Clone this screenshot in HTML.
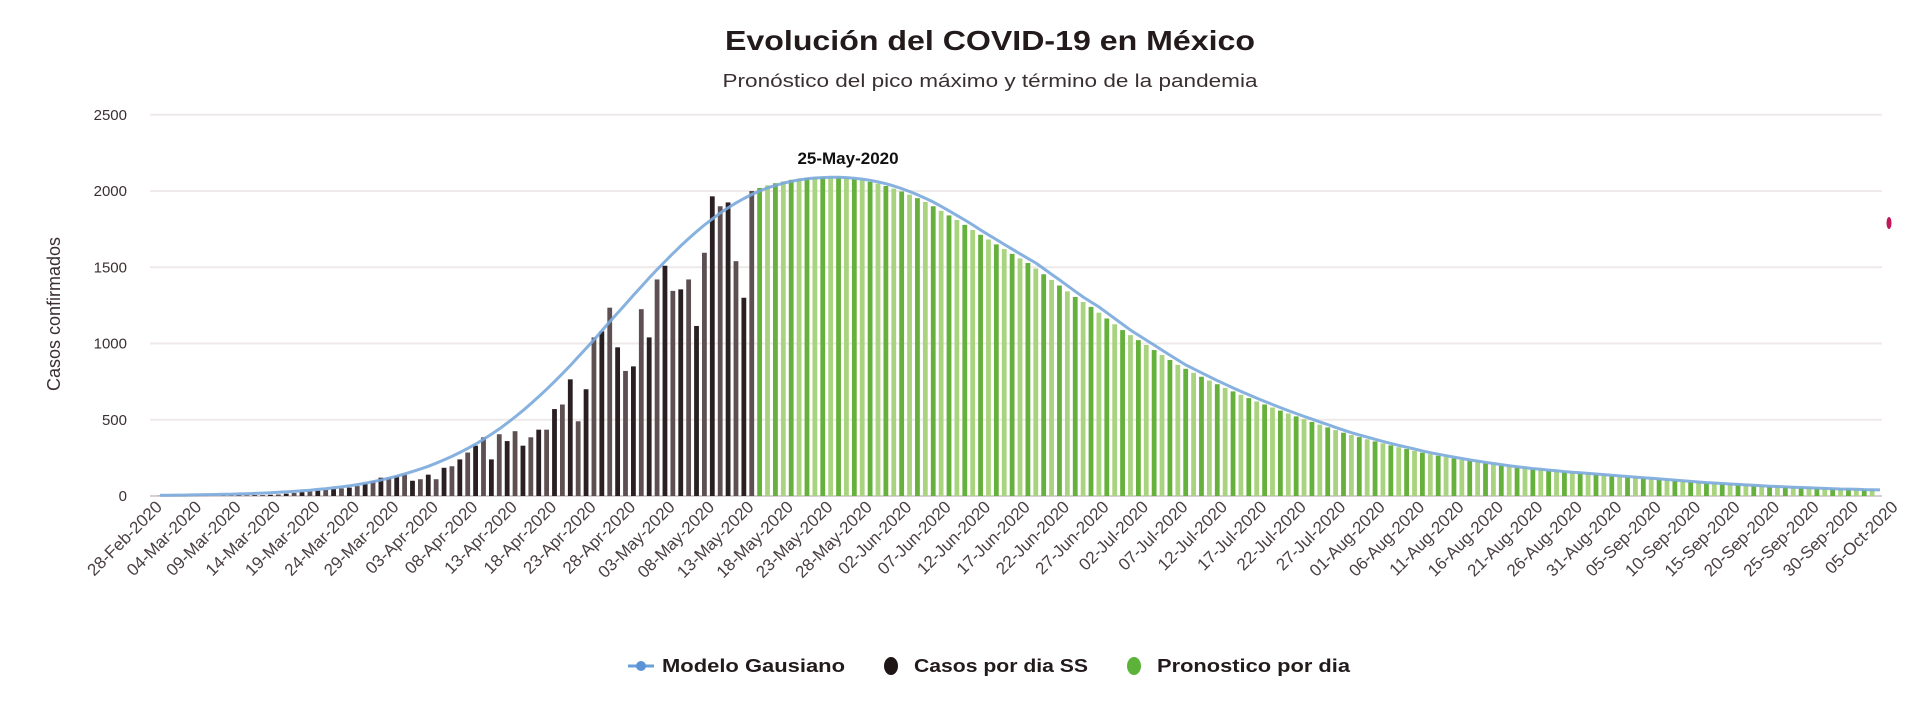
<!DOCTYPE html>
<html><head><meta charset="utf-8"><style>
html,body{margin:0;padding:0;background:#fff;}
svg{display:block;font-family:"Liberation Sans",sans-serif;}
</style></head><body>
<svg id="chart" width="1931" height="706" viewBox="0 0 1931 706" xmlns="http://www.w3.org/2000/svg">
<text x="990" y="50" text-anchor="middle" font-size="28" font-weight="bold" fill="#231a1c" textLength="530" lengthAdjust="spacingAndGlyphs">Evolución del COVID-19 en México</text>
<text x="990" y="87" text-anchor="middle" font-size="18" fill="#3a2f31" textLength="535" lengthAdjust="spacingAndGlyphs">Pronóstico del pico máximo y término de la pandemia</text>
<text transform="translate(60,314) rotate(-90)" text-anchor="middle" font-size="18" fill="#3a2f31">Casos confirmados</text>
<g id="grid"></g><g id="yticks"></g><g id="bars"></g><g id="line"></g><g id="xticks"></g>
<text x="848" y="164" text-anchor="middle" font-size="17" font-weight="bold" fill="#111">25-May-2020</text>
<ellipse cx="1889" cy="223" rx="2.5" ry="6" fill="#c2185b"/>
<g>
<g>
<line x1="628" y1="666" x2="654" y2="666" stroke="#6a9fd8" stroke-width="3"/>
<circle cx="641" cy="666" r="5" fill="#5b93d6"/>
<text x="662" y="672" font-size="18" font-weight="bold" fill="#231a1c" textLength="183" lengthAdjust="spacingAndGlyphs">Modelo Gausiano</text></g>
<g>
<ellipse cx="891" cy="666" rx="7" ry="9" fill="#1e1517"/>
<text x="914" y="672" font-size="18" font-weight="bold" fill="#231a1c" textLength="174" lengthAdjust="spacingAndGlyphs">Casos por dia SS</text></g>
<g>
<ellipse cx="1134" cy="666" rx="7" ry="9" fill="#5db33a"/>
<text x="1157" y="672" font-size="18" font-weight="bold" fill="#231a1c" textLength="193" lengthAdjust="spacingAndGlyphs">Pronostico por dia</text></g>
</g>
</svg>
<script>
const yTicks=[0,500,1000,1500,2000,2500];
const xTickLabels=["28-Feb-2020","04-Mar-2020","09-Mar-2020","14-Mar-2020","19-Mar-2020","24-Mar-2020","29-Mar-2020","03-Apr-2020","08-Apr-2020","13-Apr-2020","18-Apr-2020","23-Apr-2020","28-Apr-2020","03-May-2020","08-May-2020","13-May-2020","18-May-2020","23-May-2020","28-May-2020","02-Jun-2020","07-Jun-2020","12-Jun-2020","17-Jun-2020","22-Jun-2020","27-Jun-2020","02-Jul-2020","07-Jul-2020","12-Jul-2020","17-Jul-2020","22-Jul-2020","27-Jul-2020","01-Aug-2020","06-Aug-2020","11-Aug-2020","16-Aug-2020","21-Aug-2020","26-Aug-2020","31-Aug-2020","05-Sep-2020","10-Sep-2020","15-Sep-2020","20-Sep-2020","25-Sep-2020","30-Sep-2020","05-Oct-2020"];
const casosSS=[1,0,0,1,0,2,1,1,2,3,3,4,5,6,8,10,15,20,25,30,35,40,45,50,55,65,80,
100,120,120,130,140,100,110,140,110,185,195,240,285,330,385,240,405,360,425,330,385,435,435,570,600,765,490,700,1040,1080,1235,975,820,850,1225,1040,1420,1510,1345,1355,1420,1115,1595,1965,1900,1925,1540,1300,2000];
const modelo=[5,5,6,6,7,8,9,10,11,12,14,15,17,19,21,24,27,30,34,38,43,
48,54,60,67,75,84,94,105,117,130,
145,160,177,195,215,237,260,285,312,340,
372,405,440,478,518,560,605,652,700,750,
802,856,912,968,1025,1083,1142,1200,1258,1316,
1373,1430,1485,1538,1590,1640,1688,1734,1777,1817,
1855,1890,1922,1951,1977,2000,2020,2037,2051,2063,
2073,2080,2085,2088,2090,2090,2088,2084,2078,2070,
2060,2048,2033,2016,1997,1976,1953,1928,1900,1870,
1840,1810,1778,1744,1713,1682,1650,1619,1588,1558,
1528,1491,1454,1417,1380,1342,1305,1272,1240,1202,
1164,1126,1088,1055,1022,990,957,924,892,860,
834,808,782,757,733,709,686,664,642,620,
600,580,560,541,522,504,486,468,450,432,
415,400,386,372,358,345,332,320,308,296,
284,274,264,255,246,237,229,221,213,206,
199,192,186,180,175,170,165,160,156,152,
148,144,140,136,132,128,124,120,116,112,
108,104,100,96,92,88,85,82,79,76,
73,70,67,64,62,60,58,56,54,52,
50,48,46,45,44,42,41,40];
const pronosticoStart=76;
const pronostico=[2020,2037,2051,2063,
2073,2080,2085,2088,2090,2090,2088,2084,2078,2070,
2060,2048,2033,2016,1997,1976,1953,1928,1900,1870,
1840,1810,1778,1744,1713,1682,1650,1619,1588,1558,
1528,1491,1454,1417,1380,1342,1305,1272,1240,1202,
1164,1126,1088,1055,1022,990,957,924,892,860,
834,808,782,757,733,709,686,664,642,620,
600,580,560,541,522,504,486,468,450,432,
415,400,386,372,358,345,332,320,308,296,
284,274,264,255,246,237,229,221,213,206,
199,192,186,180,175,170,165,160,156,152,
148,144,140,136,132,128,124,120,116,112,
108,104,100,96,92,88,85,82,79,76,
73,70,67,64,62,60,58,56,54,52,
50,48,46,45,44,42,41,40];

const NS="http://www.w3.org/2000/svg";
const X0=160, DX=7.89, Y0=496, PXU=305/2000;
const xs=d=>X0+d*DX, ys=v=>Y0-v*PXU;
function mk(tag,attrs,parent){const e=document.createElementNS(NS,tag);for(const k in attrs)e.setAttribute(k,attrs[k]);parent.appendChild(e);return e;}
const grid=document.getElementById('grid'),yt=document.getElementById('yticks'),bars=document.getElementById('bars'),line=document.getElementById('line'),xt=document.getElementById('xticks');
yTicks.forEach(v=>{
 const g=mk('line',{x1:150,x2:1882,y1:ys(v),y2:ys(v),stroke:v===0?'#d8d0d0':'#efe9e9','stroke-width':2},grid);
 
 
 const t=mk('text',{x:127,y:ys(v)+5,'text-anchor':'end','font-size':15,fill:'#3a2f31'},yt);
 
 
 t.textContent=v;
});
casosSS.forEach((v,i)=>{
 const r=mk('rect',{x:xs(i)-2.4,y:ys(v),width:4.8,height:v*PXU,fill:i%2?'#5e5052':'#2a1f22'},bars);
 
 
});
pronostico.forEach((v,j)=>{
 const i=pronosticoStart+j;
 const r=mk('rect',{x:xs(i)-2.4,y:ys(v),width:4.8,height:v*PXU,fill:j%2?'#a9d37f':'#66b13c'},bars);
 
 
});
const pts=modelo.map((v,i)=>xs(i).toFixed(1)+','+ys(v).toFixed(1)).join(' ');
const pl=mk('polyline',{points:pts,fill:'none',stroke:'#7aa9dc','stroke-width':3,'stroke-linejoin':'round',opacity:0.9},line);


xTickLabels.forEach((s,k)=>{
 const x=xs(k*5);
 const t=mk('text',{x:0,y:0,'text-anchor':'end','font-size':17,fill:'#4a3f41',transform:'translate('+(x+3)+',508) rotate(-45)'},xt);
 
 
 t.textContent=s;
});
</script>
</body></html>
